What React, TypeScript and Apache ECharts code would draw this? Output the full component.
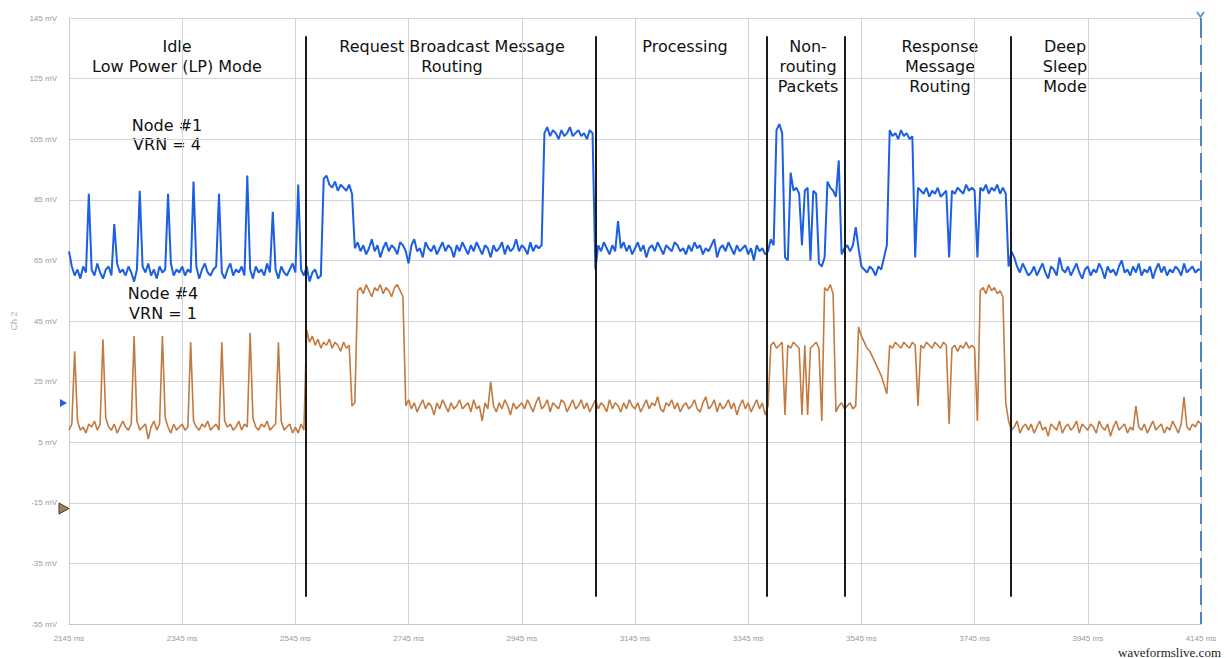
import React, { useEffect, useRef } from "react";
import * as echarts from "echarts";

// Sampling grid of the scope capture (ms)
const SAMPLE_START_MS = 2145;
const SAMPLE_STEP_MS = 5;

// Axis ranges / ticks
const X_MIN_MS = 2145;
const X_MAX_MS = 4145;
const X_INTERVAL_MS = 200;
const Y_MIN_MV = -55;
const Y_MAX_MV = 145;
const Y_INTERVAL_MV = 20;

// Node #1 (blue) trace, mV, one value per 5 ms starting at 2145 ms
const node1mV = [
  68, 63, 60, 62, 59, 63, 61, 87, 62, 60, 64, 61, 59, 62, 63, 60, 77, 64, 61, 62,
  60, 63, 61, 58, 62, 88, 63, 61, 64, 60, 62, 59, 63, 61, 62, 87, 64, 60, 62, 61,
  63, 60, 62, 61, 91, 63, 59, 62, 64, 61, 60, 62, 63, 87, 61, 59, 62, 64, 60, 62,
  61, 63, 60, 93, 62, 59, 63, 61, 62, 60, 64, 61, 81, 62, 59, 63, 61, 60, 62, 64,
  61, 90, 62, 60, 63, 58, 61, 62, 59, 60, 92, 93, 90, 89, 91, 88, 90, 89, 88, 90,
  87, 69, 71, 68, 70, 67, 69, 72, 68, 70, 66, 69, 71, 68, 70, 69, 67, 71, 70, 68,
  64, 70, 72, 68, 69, 66, 71, 69, 68, 70, 67, 69, 71, 68, 70, 69, 66, 70, 68, 71,
  69, 67, 70, 68, 71, 69, 67, 70, 69, 66, 70, 68, 69, 71, 67, 70, 68, 69, 72, 68,
  70, 69, 67, 71, 68, 70, 69, 70, 107, 109, 106, 108, 107, 105, 108, 106, 107, 109, 106, 107,
  108, 106, 107, 105, 108, 107, 62, 70, 68, 71, 69, 67, 70, 68, 78, 69, 71, 68, 70, 67,
  69, 71, 68, 70, 66, 69, 70, 68, 71, 69, 67, 70, 69, 68, 71, 70, 68, 69, 67, 70,
  68, 71, 69, 70, 67, 69, 68, 70, 72, 66, 69, 70, 68, 71, 69, 67, 70, 68, 69, 70,
  67, 69, 65, 70, 68, 69, 67, 68, 72, 70, 108, 110, 107, 66, 65, 94, 88, 89, 87, 70,
  88, 89, 65, 88, 87, 64, 63, 66, 91, 89, 88, 86, 98, 67, 69, 70, 68, 70, 76, 69,
  63, 62, 61, 63, 62, 60, 63, 62, 66, 70, 108, 106, 107, 105, 108, 106, 107, 105, 106, 66,
  89, 88, 87, 89, 86, 88, 87, 89, 86, 87, 88, 66, 88, 87, 89, 88, 87, 90, 88, 89,
  88, 66, 89, 88, 90, 87, 89, 88, 90, 87, 89, 87, 63, 68, 66, 63, 61, 64, 62, 60,
  61, 63, 60, 62, 64, 61, 59, 63, 62, 60, 66, 62, 61, 63, 60, 62, 64, 61, 59, 62,
  63, 60, 62, 61, 64, 62, 59, 63, 61, 62, 60, 63, 65, 61, 62, 60, 63, 61, 64, 60,
  62, 61, 63, 59, 62, 64, 61, 63, 60, 62, 61, 63, 62, 60, 64, 61, 62, 63, 61, 62,
  62,
];

// Node #4 (brown) trace, mV, same sampling
const node4mV = [
  9, 11, 35, 12, 9, 10, 8, 11, 10, 12, 9, 11, 39, 13, 10, 9, 11, 8, 10, 12,
  10, 9, 11, 40, 12, 9, 10, 11, 6, 10, 12, 9, 11, 40, 13, 10, 8, 11, 9, 10,
  11, 9, 10, 38, 12, 10, 9, 11, 10, 12, 9, 10, 11, 9, 38, 12, 10, 11, 9, 10,
  12, 9, 11, 10, 41, 13, 10, 9, 11, 10, 12, 9, 10, 11, 38, 12, 9, 10, 11, 8,
  10, 8, 11, 9, 42, 38, 40, 37, 39, 36, 38, 37, 39, 36, 38, 37, 35, 38, 36, 37,
  17, 18, 55, 56, 54, 57, 55, 53, 56, 55, 57, 54, 56, 55, 53, 56, 57, 55, 53, 17,
  19, 16, 18, 15, 17, 19, 16, 18, 17, 14, 18, 16, 19, 17, 15, 18, 16, 17, 19, 16,
  17, 18, 15, 19, 16, 17, 12, 18, 16, 25, 17, 15, 18, 16, 19, 17, 14, 18, 16, 17,
  18, 16, 19, 17, 15, 18, 20, 16, 17, 19, 15, 18, 17, 16, 19, 18, 15, 17, 19, 16,
  17, 19, 16, 18, 15, 17, 19, 16, 18, 17, 15, 19, 16, 18, 17, 15, 18, 16, 19, 17,
  16, 18, 15, 17, 19, 16, 18, 17, 20, 16, 15, 18, 17, 19, 16, 18, 15, 17, 18, 16,
  17, 19, 16, 15, 18, 20, 16, 17, 19, 15, 18, 16, 17, 19, 16, 18, 14, 17, 19, 16,
  18, 15, 17, 19, 16, 18, 14, 17, 37, 38, 36, 37, 38, 14, 37, 36, 38, 37, 36, 14,
  37, 14, 36, 37, 38, 36, 12, 56, 55, 57, 54, 15, 17, 18, 16, 17, 18, 16, 17, 43,
  40, 38, 36, 35, 33, 31, 29, 27, 24, 21, 37, 36, 38, 37, 36, 38, 37, 36, 38, 37,
  17, 37, 36, 38, 37, 36, 38, 37, 36, 38, 37, 11, 36, 37, 35, 37, 36, 38, 36, 37,
  36, 12, 55, 56, 54, 57, 55, 56, 54, 55, 53, 18, 12, 9, 10, 12, 8, 10, 11, 9,
  11, 8, 10, 12, 9, 10, 7, 11, 10, 9, 12, 8, 10, 11, 9, 10, 12, 8, 11, 10,
  9, 11, 10, 8, 12, 10, 9, 11, 7, 10, 12, 9, 10, 11, 8, 10, 9, 17, 10, 9,
  11, 8, 10, 12, 9, 10, 11, 8, 10, 9, 12, 10, 8, 11, 20, 10, 9, 11, 10, 12,
  11,
];

// Phase boundary markers (ms) and their vertical extent (mV)
const phaseBoundariesMs = [2564, 3076, 3378, 3516, 3808];
const BOUNDARY_TOP_MV = 139;
const BOUNDARY_BOTTOM_MV = -46;

// Phase titles (lines of text)
const phaseTitles = [
  ["Idle", "Low Power (LP) Mode"],
  ["Request Broadcast Message", "Routing"],
  ["Processing"],
  ["Non-", "routing", "Packets"],
  ["Response", "Message", "Routing"],
  ["Deep", "Sleep", "Mode"],
];
const node1Label = ["Node #1", "VRN = 4"];
const node4Label = ["Node #4", "VRN = 1"];

export default function App() {
  const ref = useRef<HTMLDivElement>(null);

  useEffect(() => {
    if (!ref.current) return;
    const chart = echarts.init(ref.current, null, { renderer: "svg" });

    const toPairs = (vals: number[]) =>
      vals.map((v, i) => [SAMPLE_START_MS + i * SAMPLE_STEP_MS, v]);

    const boundaryLines = phaseBoundariesMs.map((t) => [
      { coord: [t, BOUNDARY_TOP_MV] },
      { coord: [t, BOUNDARY_BOTTOM_MV] },
    ]);

    const textStyle = (text: string) => ({
      text,
      fill: "#111",
      font: '16px "DejaVu Sans"',
      fontSize: 16,
      fontFamily: "DejaVu Sans",
      textAlign: "center",
      textVerticalAlign: "middle",
      align: "center",
      verticalAlign: "middle",
    });

    const titleCenters = [177, 452, 685, 808, 940, 1065];
    const texts: any[] = [];
    phaseTitles.forEach((lines, k) => {
      lines.forEach((line, j) => {
        texts.push({ type: "text", x: titleCenters[k], y: 46 + j * 20, style: textStyle(line) });
      });
    });
    node1Label.forEach((line, j) =>
      texts.push({ type: "text", x: 167, y: 125 + j * 19, style: textStyle(line) })
    );
    node4Label.forEach((line, j) =>
      texts.push({ type: "text", x: 163, y: 293 + j * 20, style: textStyle(line) })
    );

    const option: any = {
      animation: false,
      backgroundColor: "#ffffff",
      grid: { left: 69, right: 25, top: 18, bottom: 34, containLabel: false },
      xAxis: {
        type: "value",
        min: X_MIN_MS,
        max: X_MAX_MS,
        interval: X_INTERVAL_MS,
        axisLine: { show: true, onZero: false, lineStyle: { color: "#c8c8c8" } },
        axisTick: { show: false },
        axisLabel: {
          formatter: (v: number) => `${v} ms`,
          color: "#9a9a9a",
          fontSize: 8,
          fontFamily: "Liberation Sans",
          margin: 10,
        },
        splitLine: { show: true, lineStyle: { color: "#d4d4d4", width: 1 } },
      },
      yAxis: {
        type: "value",
        min: Y_MIN_MV,
        max: Y_MAX_MV,
        interval: Y_INTERVAL_MV,
        name: "Ch 2",
        nameLocation: "middle",
        nameGap: 50,
        nameRotate: 90,
        nameTextStyle: { color: "#b0b0b0", fontSize: 9, fontFamily: "Liberation Sans" },
        axisLine: { show: true, onZero: false, lineStyle: { color: "#c8c8c8" } },
        axisTick: { show: false },
        axisLabel: {
          formatter: (v: number) => `${v} mV`,
          color: "#9a9a9a",
          fontSize: 8,
          fontFamily: "Liberation Sans",
          margin: 12,
        },
        splitLine: { show: true, lineStyle: { color: "#d4d4d4", width: 1 } },
      },
      series: [
        {
          name: "Node #4",
          type: "line",
          data: toPairs(node4mV),
          showSymbol: false,
          symbol: "none",
          lineStyle: { color: "#c27a40", width: 1.6 },
          z: 2,
        },
        {
          name: "Node #1",
          type: "line",
          data: toPairs(node1mV),
          showSymbol: false,
          symbol: "none",
          lineStyle: { color: "#1c5fe2", width: 2 },
          z: 3,
          markLine: {
            silent: true,
            symbol: ["none", "none"],
            label: { show: false },
            lineStyle: { color: "#1a1a1a", width: 2, type: "solid" },
            data: [
              ...boundaryLines,
              [
                {
                  coord: [X_MAX_MS, Y_MAX_MV],
                  lineStyle: { color: "#4a86c8", width: 2, type: [20, 7] },
                },
                { coord: [X_MAX_MS, Y_MIN_MV] },
              ],
            ],
          },
        },
      ],
      graphic: [
        ...texts,
        {
          type: "polygon",
          shape: { points: [[60, 399], [67, 403], [60, 407]] },
          style: { fill: "#2a5fd8" },
        },
        {
          type: "polygon",
          shape: { points: [[59, 503], [69, 508.5], [59, 514]] },
          style: { fill: "#a08060", stroke: "#4a3828", lineWidth: 1 },
        },
        {
          type: "polyline",
          shape: { points: [[1197, 12], [1200.5, 17], [1204, 12]] },
          style: { stroke: "#4a86c8", lineWidth: 1.5, fill: null },
        },
        {
          type: "text",
          x: 1221,
          y: 652,
          style: {
            text: "waveformslive.com",
            fill: "#222",
            font: '13px "Liberation Serif"',
            fontSize: 13,
            fontFamily: "Liberation Serif",
            textAlign: "right",
            textVerticalAlign: "middle",
            align: "right",
            verticalAlign: "middle",
          },
        },
      ],
    };

    chart.setOption(option);
    return () => chart.dispose();
  }, []);

  return (
    <div
      ref={ref}
      style={{ position: "absolute", left: 0, top: 0, width: 1226, height: 658, background: "#fff" }}
    />
  );
}
